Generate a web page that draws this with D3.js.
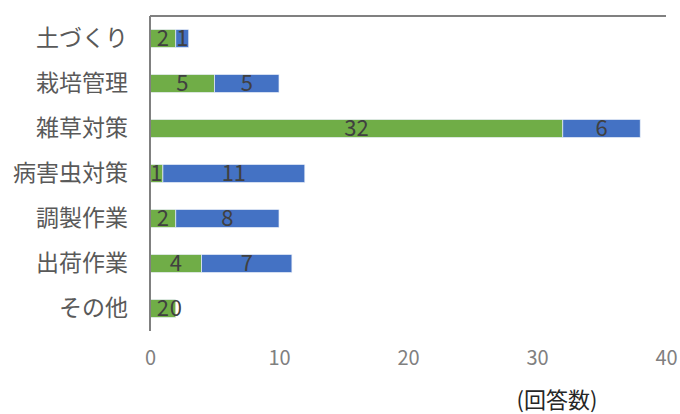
<!DOCTYPE html>
<html>
<head>
<meta charset="utf-8">
<script src="https://cdn.jsdelivr.net/npm/d3@7"></script>
<style>
  body { margin: 0; background: #fff; }
</style>
</head>
<body>
<div id="chart"></div>
<script>
const width = 680;
const height = 414;
const margin = { top: 16, right: 14, bottom: 83, left: 150 };

const categories = ["土づくり", "栽培管理", "雑草対策", "病害虫対策", "調製作業", "出荷作業", "その他"];
const seriesA = [2, 5, 32, 1, 2, 4, 2];
const seriesB = [1, 5, 6, 11, 8, 7, 0];
const xTicks = [0, 10, 20, 30, 40];
const colors = ["#70AD47", "#4472C4"];

const rows = categories.map((c, i) => ({ cat: c, a: seriesA[i], b: seriesB[i] }));

const svg = d3.select("#chart").append("svg")
  .attr("width", width)
  .attr("height", height)
  .style("font-family", "'Noto Sans CJK JP', sans-serif");

const x = d3.scaleLinear()
  .domain([0, 40])
  .range([margin.left, width - margin.right]);

const y = d3.scaleBand()
  .domain(categories)
  .range([margin.top, height - margin.bottom])
  .paddingInner(0.6)
  .paddingOuter(0.3);

const stack = d3.stack().keys(["a", "b"]);
const series = stack(rows);

const layers = svg.selectAll("g.layer")
  .data(series)
  .join("g")
  .attr("class", "layer")
  .attr("fill", (d, i) => colors[i]);

layers.selectAll("rect")
  .data(d => d)
  .join("rect")
  .attr("x", d => x(d[0]))
  .attr("y", d => y(d.data.cat))
  .attr("width", d => x(d[1]) - x(d[0]))
  .attr("height", y.bandwidth())
  .attr("stroke", "#e8eef8")
  .attr("stroke-width", 0.7);

// data labels
layers.selectAll("text")
  .data(d => d.map(v => ({ v, key: d.key })))
  .join("text")
  .attr("x", d => x((d.v[0] + d.v[1]) / 2))
  .attr("y", d => y(d.v.data.cat) + y.bandwidth() / 2)
  .attr("dy", "0.36em")
  .attr("text-anchor", "middle")
  .attr("fill", "#404040")
  .style("font-size", "22px")
  .text(d => d.v.data[d.key]);

// top border line
svg.append("line")
  .attr("x1", x(0)).attr("x2", x(40))
  .attr("y1", margin.top).attr("y2", margin.top)
  .attr("stroke", "#808080")
  .attr("stroke-width", 2);

// y axis
const yAxis = svg.append("g")
  .attr("transform", `translate(${x(0)},0)`)
  .call(d3.axisLeft(y).tickSize(0).tickPadding(22));
yAxis.select(".domain")
  .attr("stroke", "#808080")
  .attr("stroke-width", 2)
  .attr("d", `M0,${margin.top}V${height - margin.bottom}`);
yAxis.selectAll("text")
  .attr("fill", "#595959")
  .style("font-size", "23px")
  .style("font-family", "'Noto Sans CJK JP', sans-serif");

// x axis (labels only)
const xAxis = svg.append("g")
  .attr("transform", `translate(0,${height - margin.bottom})`)
  .call(d3.axisBottom(x).tickValues(xTicks).tickSize(0).tickPadding(20));
xAxis.select(".domain").remove();
xAxis.selectAll("text")
  .attr("fill", "#808080")
  .style("font-size", "20px")
  .style("font-family", "'Noto Sans CJK JP', sans-serif");

svg.append("text")
  .attr("x", 557)
  .attr("y", 408)
  .attr("text-anchor", "middle")
  .attr("fill", "#262626")
  .style("font-size", "22px")
  .text("(回答数)");
</script>
</body>
</html>
